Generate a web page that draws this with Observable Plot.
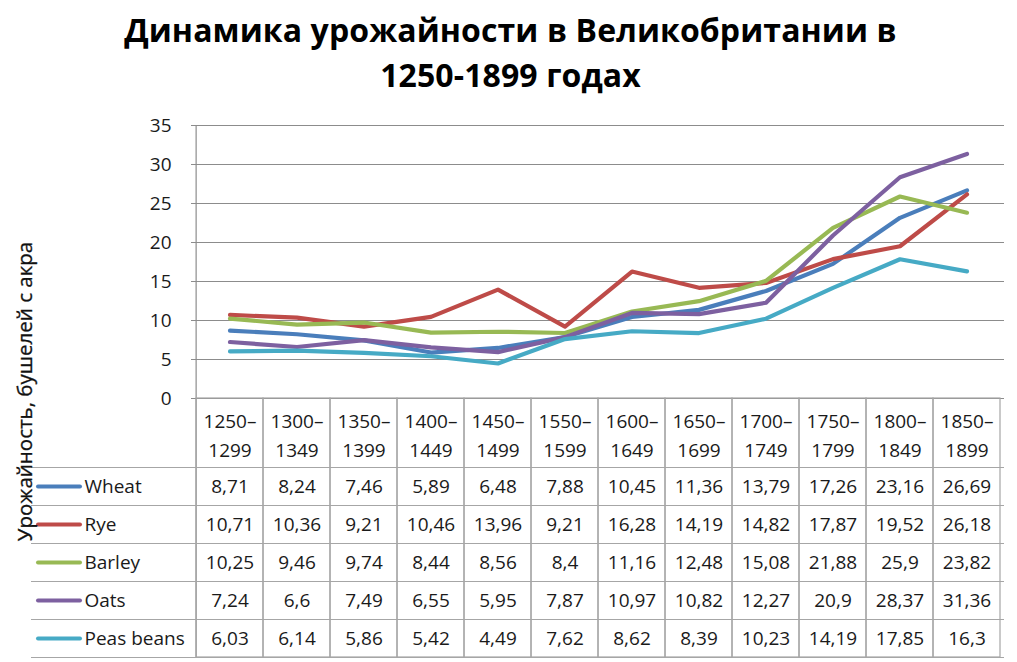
<!DOCTYPE html>
<html>
<head>
<meta charset="utf-8">
<script src="https://cdn.jsdelivr.net/npm/d3@7"></script>
<script src="https://cdn.jsdelivr.net/npm/@observablehq/plot@0.6"></script>
<style>
  html, body { margin: 0; padding: 0; background: #fff; }
  body { width: 1017px; height: 662px; overflow: hidden; font-family: "Open Sans", sans-serif; }
  #title { height: 100px; width: 1017px; text-align: center; font-weight: bold; font-size: 32px; line-height: 45px; color: #000; padding-top: 7px; padding-left: 4px; box-sizing: border-box; letter-spacing: 0.1px; }
  #chart svg { display: block; }
</style>
</head>
<body>
<div id="title">Динамика урожайности в Великобритании в<br>1250-1899 годах</div>
<div id="chart"></div>
<script>
const categories = ["1250–1299","1300–1349","1350–1399","1400–1449","1450–1499","1550–1599","1600–1649","1650–1699","1700–1749","1750–1799","1800–1849","1850–1899"];
const seriesNames = ["Wheat","Rye","Barley","Oats","Peas beans"];
const seriesColors = ["#4a7ebb","#be4b48","#98b954","#7d60a0","#46aac5"];
const wheat  = [8.71, 8.24, 7.46, 5.89, 6.48, 7.88, 10.45, 11.36, 13.79, 17.26, 23.16, 26.69];
const rye    = [10.71, 10.36, 9.21, 10.46, 13.96, 9.21, 16.28, 14.19, 14.82, 17.87, 19.52, 26.18];
const barley = [10.25, 9.46, 9.74, 8.44, 8.56, 8.4, 11.16, 12.48, 15.08, 21.88, 25.9, 23.82];
const oats   = [7.24, 6.6, 7.49, 6.55, 5.95, 7.87, 10.97, 10.82, 12.27, 20.9, 28.37, 31.36];
const peas   = [6.03, 6.14, 5.86, 5.42, 4.49, 7.62, 8.62, 8.39, 10.23, 14.19, 17.85, 16.3];
const yTicks = [0, 5, 10, 15, 20, 25, 30, 35];
const yLabel = "Урожайность, бушелей с акра";

const allSeries = [wheat, rye, barley, oats, peas];

const W = 1017, H = 562;
const mTop = 25, mBottom = 264, mLeft = 191, mRight = 13;
const plotH = H - mTop - mBottom;
const bw = (W - mLeft - mRight) / categories.length;
const rowH = 38;
const headerH = 69;
const tableH = headerH + 5 * rowH;
const grid = "#8c8c8c";
const border = "#a6a6a6";
const fmt = v => String(v).replace(".", ",");
const fontSize = 19;
const textFill = "#1a1a1a";

const marks = [
  Plot.gridY(yTicks, {stroke: grid, strokeOpacity: 1, strokeWidth: 1.2}),
  Plot.axisY(yTicks, {tickSize: 0, tickPadding: 20, fontSize: fontSize, fill: textFill, label: null}),
  // left axis line spanning plot area + table
  Plot.ruleX([categories[0]], {dx: -bw / 2, y1: 35, y2: 0, stroke: grid, strokeWidth: 1.2, insetBottom: -tableH}),
  // table column cells (header + rows)
  Plot.cell(categories, {x: d => d, stroke: border, fill: "none", strokeWidth: 1.2, insetTop: plotH, insetBottom: -tableH, inset: 0}),
  // table horizontal lines extending into left legend column
  ...d3.range(6).map(i => Plot.ruleY([0], {stroke: border, strokeWidth: 1.2, dy: headerH + i * rowH, insetLeft: -(mLeft - 31)})),
  // header labels
  Plot.text(categories, {x: d => d, frameAnchor: "bottom", lineAnchor: "middle", text: d => d.replace("–", "–\n"), dy: 34.5, fontSize: fontSize, fill: textFill, lineHeight: 1.52}),
  // series lines
  ...allSeries.map((vals, i) => Plot.line(vals, {x: (d, j) => categories[j], y: d => d, stroke: seriesColors[i], strokeWidth: 4.2, strokeLinejoin: "round", strokeLinecap: "round"})),
  // table values
  ...allSeries.map((vals, i) => Plot.text(vals, {x: (d, j) => categories[j], frameAnchor: "bottom", lineAnchor: "middle", text: fmt, dy: headerH + i * rowH + rowH / 2, fontSize: fontSize, fill: textFill})),
  // legend keys in table
  ...seriesNames.map((name, i) => Plot.ruleY([0], {stroke: seriesColors[i], strokeWidth: 4, strokeLinecap: "round", dy: headerH + i * rowH + rowH / 2, insetLeft: -(mLeft - 38), insetRight: W - mLeft - mRight + (mLeft - 80)})),
  ...seriesNames.map((name, i) => Plot.text([name], {frameAnchor: "bottom-left", lineAnchor: "middle", text: d => d, dx: -(mLeft - 84), dy: headerH + i * rowH + rowH / 2, textAnchor: "start", fontSize: fontSize, fill: textFill})),
  // y label
  Plot.text([yLabel], {frameAnchor: "bottom-left", lineAnchor: "middle", textAnchor: "middle", text: d => d, rotate: -90, dx: -(mLeft - 25), dy: (tableH - plotH) / 2, fontSize: 20.5, fill: "#111", stroke: "#111", strokeWidth: 0.3})
];

const chart = Plot.plot({
  width: W, height: H,
  marginTop: mTop, marginBottom: mBottom, marginLeft: mLeft, marginRight: mRight,
  style: {fontFamily: "'Open Sans', sans-serif", fontSize: fontSize + "px", background: "#fff", overflow: "visible"},
  x: {type: "band", domain: categories, padding: 0, axis: null},
  y: {domain: [0, 35], axis: null},
  marks
});
document.getElementById("chart").appendChild(chart);
</script>
</body>
</html>
